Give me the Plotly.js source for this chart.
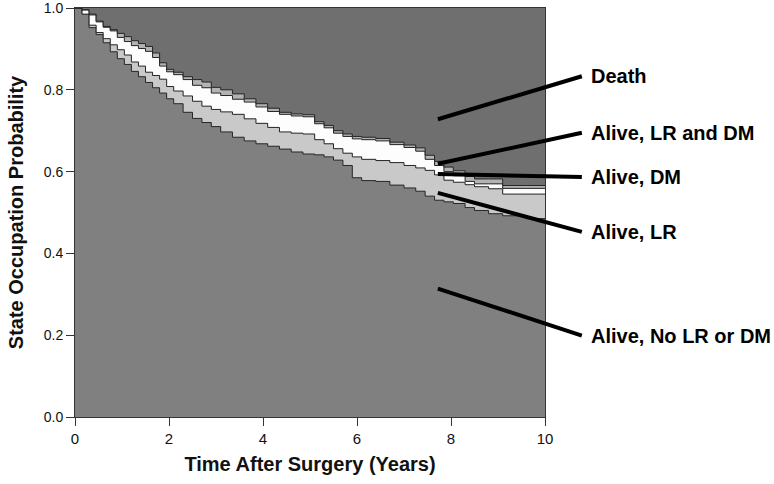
<!DOCTYPE html>
<html>
<head>
<meta charset="utf-8">
<script src="https://cdn.plot.ly/plotly-3.0.1.min.js"></script>
<style>html,body{margin:0;padding:0;background:#fff;}</style>
</head>
<body>
<div id="chart" style="width:774px;height:484px;"></div>
<script>
// Time after surgery (years)
var years = [0, 0.15, 0.3, 0.45, 0.6, 0.75, 0.9, 1.05, 1.2, 1.35, 1.5, 1.65, 1.8, 1.95, 2.1, 2.3, 2.5, 2.7, 2.9, 3.1, 3.35, 3.6, 3.85, 4.1, 4.35, 4.6, 4.85, 5.1, 5.3, 5.5, 5.7, 5.9, 6.1, 6.4, 6.7, 7.0, 7.25, 7.45, 7.65, 7.85, 8.05, 8.3, 8.5, 8.8, 9.1, 9.6, 10];

// Cumulative state occupation probabilities (stacked from the bottom)
// upper edge of "Alive, No LR or DM"
var cumNoLRDM = [1.0, 0.985, 0.952, 0.935, 0.915, 0.893, 0.876, 0.862, 0.845, 0.832, 0.818, 0.805, 0.792, 0.778, 0.766, 0.745, 0.730, 0.720, 0.710, 0.697, 0.684, 0.675, 0.668, 0.662, 0.655, 0.648, 0.643, 0.641, 0.636, 0.628, 0.615, 0.585, 0.578, 0.576, 0.567, 0.560, 0.552, 0.540, 0.530, 0.526, 0.522, 0.512, 0.505, 0.497, 0.492, 0.485, 0.485];
// upper edge of "Alive, LR"
var cumLR = [1.0, 0.985, 0.958, 0.940, 0.925, 0.910, 0.898, 0.885, 0.868, 0.858, 0.843, 0.835, 0.826, 0.808, 0.797, 0.785, 0.772, 0.760, 0.752, 0.746, 0.740, 0.729, 0.718, 0.708, 0.697, 0.694, 0.692, 0.678, 0.668, 0.656, 0.645, 0.636, 0.630, 0.627, 0.622, 0.615, 0.609, 0.603, 0.592, 0.579, 0.574, 0.568, 0.563, 0.558, 0.545, 0.545, 0.545];
// upper edge of "Alive, DM"
var cumDM = [1.0, 0.995, 0.983, 0.966, 0.953, 0.944, 0.928, 0.918, 0.908, 0.901, 0.894, 0.879, 0.858, 0.844, 0.837, 0.825, 0.811, 0.805, 0.792, 0.786, 0.777, 0.770, 0.758, 0.747, 0.740, 0.736, 0.734, 0.717, 0.707, 0.694, 0.686, 0.680, 0.678, 0.675, 0.666, 0.659, 0.650, 0.630, 0.615, 0.600, 0.590, 0.576, 0.570, 0.570, 0.559, 0.559, 0.559];
// upper edge of "Alive, LR and DM" (= 1 - P(Death))
var cumLRDM = [1.0, 0.996, 0.985, 0.968, 0.955, 0.947, 0.938, 0.930, 0.920, 0.913, 0.906, 0.890, 0.866, 0.850, 0.843, 0.832, 0.825, 0.819, 0.806, 0.800, 0.790, 0.778, 0.766, 0.755, 0.745, 0.741, 0.739, 0.722, 0.713, 0.700, 0.692, 0.686, 0.684, 0.681, 0.672, 0.665, 0.658, 0.640, 0.625, 0.611, 0.602, 0.588, 0.582, 0.582, 0.566, 0.566, 0.566];
var cumAll = years.map(function(){ return 1.0; });

var stateNames = ["Alive, No LR or DM", "Alive, LR", "Alive, DM", "Alive, LR and DM", "Death"];
var stateColors = ["#808080", "#c9c9c9", "#fdfdfd", "#b3b3b3", "#6f6f6f"];
var edges = [cumNoLRDM, cumLR, cumDM, cumLRDM, cumAll];

var traces = edges.map(function(e, i){
  return {
    x: years, y: e, type: "scatter", mode: "lines",
    name: stateNames[i],
    line: {shape: "hv", color: i === 4 ? "rgba(0,0,0,0)" : "#262626", width: 1},
    fill: i === 0 ? "tozeroy" : "tonexty",
    fillcolor: stateColors[i],
    hoverinfo: "skip"
  };
});

// Pointer labels
var labelText = ["Death", "Alive, LR and DM", "Alive, DM", "Alive, LR", "Alive, No LR or DM"];
var labelX = [7.72, 7.72, 7.72, 7.72, 7.72];
var labelY = [0.728, 0.619, 0.594, 0.548, 0.314];
var labelAx = [144, 144, 144, 144, 144];
var labelAy = [-43, -31, 3, 39, 47];

var annotations = labelText.map(function(t, i){
  return {
    text: "<b>" + t + "</b>", x: labelX[i], y: labelY[i], xref: "x", yref: "y",
    showarrow: true, arrowhead: 0, arrowwidth: 4, arrowcolor: "#000",
    ax: labelAx[i], ay: labelAy[i], xanchor: "left", yanchor: "middle",
    borderpad: 8, font: {family: "Liberation Sans, Arial, sans-serif", size: 20, color: "#000"}
  };
});

var layout = {
  width: 774, height: 484,
  margin: {l: 75, r: 229, t: 8, b: 67},
  paper_bgcolor: "#fff", plot_bgcolor: "#6f6f6f",
  showlegend: false,
  font: {family: "Liberation Sans, Arial, sans-serif", size: 15, color: "#111"},
  xaxis: {
    range: [0, 10], tickvals: [0, 2, 4, 6, 8, 10], ticks: "outside", ticklen: 8, tickwidth: 1,
    tickcolor: "#333", showline: true, linecolor: "#333", linewidth: 1, mirror: true,
    showgrid: false, zeroline: false, fixedrange: true, ticklabeloverflow: "allow",
    tickfont: {size: 15, color: "#111"},
    title: {text: "<b>Time After Surgery (Years)</b>", font: {size: 20, color: "#111"}, standoff: 10}
  },
  yaxis: {
    range: [0, 1], tickvals: [0, 0.2, 0.4, 0.6, 0.8, 1.0], tickformat: ".1f", ticks: "outside", ticklen: 8, tickwidth: 1,
    tickcolor: "#333", showline: true, linecolor: "#333", linewidth: 1, mirror: true,
    showgrid: false, zeroline: false, fixedrange: true, ticklabeloverflow: "allow",
    tickfont: {size: 14, color: "#111"},
    title: {text: "<b>State Occupation Probability</b>", font: {size: 20, color: "#111"}, standoff: 14}
  },
  annotations: annotations
};

Plotly.newPlot("chart", traces, layout, {displayModeBar: false, staticPlot: true});
</script>
</body>
</html>
